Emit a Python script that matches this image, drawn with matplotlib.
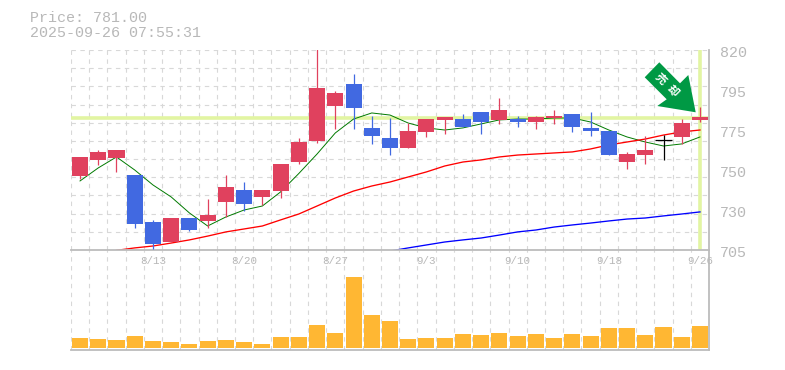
import matplotlib
matplotlib.use('Agg')
import matplotlib.pyplot as plt
from matplotlib.patches import Polygon
import numpy as np

# daily candles (red = up, blue = down, black = doji)
opens = [747.7, 756.8, 757.9, 748.2, 721.1, 709.6, 723.4, 721.7, 732.6, 739.5, 735.5,
         738.9, 755.6, 767.7, 787.8, 800.5, 775.2, 769.4, 763.7, 772.9, 779.8,
         780.3, 784.4, 779.8, 780.3, 778.6, 780.9, 783.2, 775.2, 773.4, 755.6,
         759.6, 768.2, 770.0, 779.8]
closes = [758.5, 761.4, 762.5, 720.0, 708.4, 723.4, 716.5, 725.1, 741.2, 731.5, 739.5,
          754.5, 767.1, 798.2, 795.3, 786.7, 770.5, 763.7, 773.4, 780.3, 781.5,
          775.7, 778.6, 785.5, 778.6, 781.5, 782.0, 775.7, 773.4, 759.6, 760.2,
          762.5, 768.2, 778.0, 781.5]
highs = [758.5, 762.5, 762.5, 748.2, 722.3, 723.4, 723.4, 734.3, 748.2, 744.1, 739.5,
         754.5, 769.4, 830.0, 796.4, 806.2, 782.0, 781.0, 778.0, 780.3, 781.5,
         783.2, 784.4, 792.4, 782.0, 782.0, 785.5, 783.2, 784.4, 773.4, 761.4,
         770.5, 771.1, 780.3, 787.2]
lows = [745.8, 753.9, 749.9, 717.7, 705.7, 709.6, 715.9, 717.7, 724.0, 727.4, 730.9,
        734.9, 754.5, 766.5, 774.6, 774.6, 766.0, 759.6, 763.7, 770.0, 771.7,
        775.7, 771.7, 777.5, 775.7, 774.6, 777.5, 772.9, 770.5, 759.6, 751.6,
        754.5, 756.8, 766.0, 778.6]

ma5 = [744.7, 752.2, 758.5, 751.0, 742.4, 735.5, 726.3, 718.8, 724.0, 728.0, 730.3,
       738.4, 749.0, 760.2, 772.3, 780.3, 783.8, 782.6, 778.0, 775.2, 774.0,
       775.2, 777.5, 779.8, 780.3, 780.3, 780.9, 780.9, 778.6, 774.0, 770.0,
       767.1, 764.8, 766.0, 770.0]
ma25 = [None, None, 704.8, 706.2, 707.3, 709.0, 710.8, 713.0, 715.4, 717.1, 718.8,
        722.3, 725.7, 730.3, 734.9, 738.9, 741.8, 744.1, 747.0, 749.9, 753.3,
        755.6, 756.8, 758.5, 759.6, 760.2, 760.8, 761.4, 763.1, 765.4, 767.1,
        768.8, 771.1, 772.9, 774.0]
ma75 = [None] * 17 + [704.4, 706.2, 707.9, 709.6, 710.8, 711.9, 713.6, 715.4, 716.5,
                      718.2, 719.4, 720.5, 721.7, 722.8, 723.4, 724.6, 725.7, 726.9]
volume = [10, 9, 8, 12, 7, 6, 4, 7, 8, 6, 4, 11, 11, 23, 15, 71, 33, 27,
          9, 10, 10, 14, 13, 15, 12, 14, 10, 14, 12, 20, 20, 13, 21, 11, 22]

tick_pos = [4, 9, 14, 19, 24, 29, 34]
tick_labels = ['8/13', '8/20', '8/27', '9/3', '9/10', '9/18', '9/26']
price_ticks = ['820', '795', '775', '750', '730', '705']
last_price = 781.0

UP = '#e0415e'
DOWN = '#4169e1'
GRID = '#d8d8d8'
AXIS = '#bcbcbc'
MARK = '#e2f5a2'
TEXT = '#b8b8b8'
MONO = 'Liberation Mono'
W, H = 785, 370

fig = plt.figure(figsize=(W / 100, H / 100), dpi=100)
left, right = 70.9, 709.1
ax = fig.add_axes([left / W, 1 - 250 / H, (right - left) / W, 200 / H], zorder=2)
vol = fig.add_axes([left / W, 1 - 350 / H, (right - left) / W, 100 / H], zorder=1)

x = np.arange(len(opens))
for a in (ax, vol):
    a.patch.set_alpha(0)
    a.set_xlim(-0.5, len(opens) - 0.5)
    a.set_xticks(np.arange(-0.5, len(opens) - 0.5))
    a.grid(True, axis='x', color=GRID, ls=(0, (4, 4)), lw=0.8)
    a.set_axisbelow(True)
    a.tick_params(length=0, labelbottom=False, labelleft=False)
    for side in ('top', 'left'):
        a.spines[side].set_visible(False)
    for side in ('bottom', 'right'):
        a.spines[side].set_color(AXIS)
        a.spines[side].set_linewidth(1.3)

ax.set_ylim(705, 820)
ax.set_yticks(np.linspace(705, 820, 12))
ax.grid(True, axis='y', color=GRID, ls=(0, (4, 4)), lw=0.8)

# current price cross
ax.axhline(last_price, color=MARK, lw=2.6, zorder=1)
ax.plot([34, 34], [706, 820], color=MARK, lw=2.6, zorder=1)

# moving averages sit under the candles
ax.plot(x, np.array(ma5, dtype=float), color='#007a00', lw=0.7, zorder=2)
ax.plot(x, np.array(ma25, dtype=float), color='#ff0000', lw=0.95, zorder=2)
ax.plot(x, np.array(ma75, dtype=float), color='#0000ff', lw=0.95, zorder=2)

for i in x:
    o, c = opens[i], closes[i]
    col = 'black' if o == c else (UP if c > o else DOWN)
    ax.vlines(i, lows[i], highs[i], color=col, lw=0.9, zorder=3)
    if o == c:
        ax.hlines(o, i - 0.44, i + 0.44, color=col, lw=0.9, zorder=3)
    else:
        ax.bar(i, abs(c - o), bottom=min(o, c), width=0.88, color=col, zorder=3)

vol.set_ylim(-2, 98)
vol.bar(x, volume, width=0.88, color='#ffb733', zorder=3)

# signal arrow, placed in figure pixels
arrow = [(659.3, 62.3), (644.7, 77.3), (666.7, 99.3), (657.3, 106), (695.7, 112.3), (688.3, 75), (680, 83.3)]
fig.add_artist(Polygon([(px / W, 1 - py / H) for px, py in arrow], closed=True,
                       transform=fig.transFigure, color='#009944', lw=0, zorder=5))
fig.text(660.7 / W, 1 - 78.3 / H, '売', color='white', fontsize=8, rotation=-45, weight='bold',
         family='Noto Sans CJK JP', ha='center', va='center', zorder=6)
fig.text(673 / W, 1 - 90.7 / H, '却', color='white', fontsize=8, rotation=-45, weight='bold',
         family='Noto Sans CJK JP', ha='center', va='center', zorder=6)

# text
fig.text(30 / W, 1 - 18 / H, 'Price: 781.00', family=MONO, fontsize=10.8, color=TEXT, va='center')
fig.text(30 / W, 1 - 33 / H, '2025-09-26 07:55:31', family=MONO, fontsize=10.8, color=TEXT, va='center')
for i, lab in enumerate(price_ticks):
    fig.text(720 / W, 1 - (53 + 40 * i) / H, lab, family=MONO, fontsize=10.8, color=TEXT, va='center')
for pos, lab in zip(tick_pos, tick_labels):
    ax.text(pos, -0.03, lab, family=MONO, fontsize=7.8, color=TEXT, ha='center', va='top',
            transform=ax.get_xaxis_transform(), clip_on=False)

fig.savefig('out.png', dpi=100)
